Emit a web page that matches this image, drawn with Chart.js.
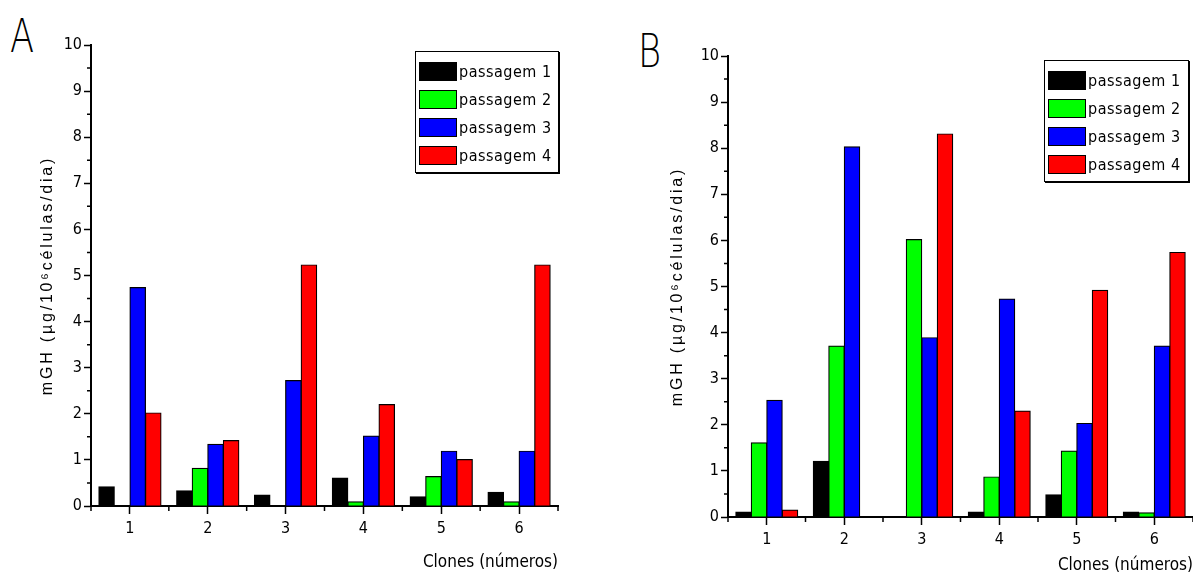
<!DOCTYPE html>
<html>
<head>
<meta charset="utf-8">
<script src="https://cdn.jsdelivr.net/npm/chart.js@4"></script>
<style>
  body { margin: 0; background: #fff; width: 1193px; height: 576px; overflow: hidden; position: relative; }
  canvas { position: absolute; top: 0; }
  .panel { position: absolute; font-family: 'DejaVu Sans', 'Liberation Sans', sans-serif; font-weight: 200; font-size: 47px; line-height: 47px; color: #000; transform: scaleX(0.75); transform-origin: left top; }
  .legend { position: absolute; border: 1px solid #000; box-shadow: 1px 1px 0 #000; background: #fff; padding: 5px 3px 3px 3px; }
  .legend .row { height: 28px; display: flex; align-items: center; white-space: nowrap; }
  .legend .sw { width: 38px; height: 19px; border: 1px solid #000; box-sizing: border-box; margin-right: 2px; flex: none; }
  .legend span { font-family: 'Liberation Sans Narrow', 'Arial Narrow', 'DejaVu Sans Condensed', sans-serif; font-size: 16px; letter-spacing: 0.5px; color: #000; }
</style>
</head>
<body>
<div class="panel" style="left:10px; top:12px">A</div>
<div class="panel" style="left:638px; top:27px">B</div>
<canvas id="graficoA" width="596" height="576" style="left:0"></canvas>
<canvas id="graficoB" width="597" height="576" style="left:596px"></canvas>
<div class="legend" id="legendaA" style="left:415px; top:51px; width:136px"></div>
<div class="legend" id="legendaB" style="left:1044px; top:60px; width:137px"></div>
<script>
const clones = ['1', '2', '3', '4', '5', '6'];
const passagens = ['passagem 1', 'passagem 2', 'passagem 3', 'passagem 4'];
const cores = ['#000000', '#00ff00', '#0000ff', '#ff0000'];
const yTicks = [0, 1, 2, 3, 4, 5, 6, 7, 8, 9, 10];

// painel A
const a_p1 = [0.42, 0.33, 0.24, 0.61, 0.20, 0.30];
const a_p2 = [0, 0.82, 0, 0.09, 0.64, 0.09];
const a_p3 = [4.74, 1.34, 2.72, 1.52, 1.19, 1.19];
const a_p4 = [2.02, 1.42, 5.23, 2.20, 1.01, 5.23];

// painel B
const b_p1 = [0.11, 1.21, 0, 0.11, 0.48, 0.11];
const b_p2 = [1.61, 3.71, 6.02, 0.87, 1.43, 0.09];
const b_p3 = [2.53, 8.03, 3.89, 4.73, 2.03, 3.71];
const b_p4 = [0.15, 0, 8.31, 2.30, 4.92, 5.74];

const yTitulo = 'mGH (µg/10⁶células/dia)';
const xTitulo = 'Clones (números)';

const narrow = "'Liberation Sans Narrow', 'Arial Narrow', 'DejaVu Sans Condensed', sans-serif";
Chart.defaults.font.family = narrow;
Chart.defaults.color = '#000';

// small ticks between the labelled ones
const minorTicks = {
  id: 'minorTicks',
  afterDraw(chart) {
    const { ctx, scales: { x, y }, chartArea } = chart;
    ctx.save();
    ctx.strokeStyle = '#000';
    ctx.lineWidth = 1.5;
    ctx.beginPath();
    for (let i = 0; i < yTicks.length - 1; i++) {
      const py = y.getPixelForValue((yTicks[i] + yTicks[i + 1]) / 2);
      ctx.moveTo(chartArea.left - 4, py);
      ctx.lineTo(chartArea.left, py);
    }
    const half = (x.getPixelForValue(1) - x.getPixelForValue(0)) / 2;
    for (let i = 0; i <= clones.length; i++) {
      const px = x.getPixelForValue(i) - half;
      ctx.moveTo(px, chartArea.bottom);
      ctx.lineTo(px, chartArea.bottom + 5);
    }
    ctx.stroke();
    ctx.restore();
  }
};

// y title is drawn spaced out like the original
const spacedTitle = {
  id: 'spacedTitle',
  beforeDraw(chart) {
    const s = chart.scales.y;
    if (s._spaced) return;
    const orig = s.drawTitle.bind(s);
    s.drawTitle = function () {
      const c = this.ctx;
      const old = c.letterSpacing;
      c.letterSpacing = '2.8px';
      orig();
      c.letterSpacing = old;
    };
    s._spaced = true;
  }
};

function montarLegenda(id) {
  const el = document.getElementById(id);
  passagens.forEach((nome, i) => {
    const row = document.createElement('div');
    row.className = 'row';
    const sw = document.createElement('div');
    sw.className = 'sw';
    sw.style.background = cores[i];
    const txt = document.createElement('span');
    txt.textContent = nome;
    row.appendChild(sw);
    row.appendChild(txt);
    el.appendChild(row);
  });
}

function criarGrafico(id, series, cfg) {
  const ctx = document.getElementById(id).getContext('2d');
  return new Chart(ctx, {
    type: 'bar',
    data: {
      labels: clones,
      datasets: series.map((d, i) => ({
        label: passagens[i],
        data: d,
        backgroundColor: cores[i],
        borderColor: '#000',
        borderWidth: 1.2,
        inflateAmount: 0.5,
        categoryPercentage: 0.8,
        barPercentage: 1
      }))
    },
    options: {
      animation: false,
      responsive: false,
      layout: { padding: { left: cfg.left, right: cfg.right, top: cfg.top, bottom: 0 } },
      plugins: { legend: { display: false }, tooltip: { enabled: false } },
      scales: {
        x: {
          grid: { display: true, drawOnChartArea: false, offset: false, tickLength: 8, tickWidth: 1.5, tickColor: '#000' },
          border: { display: true, color: '#000', width: 2 },
          ticks: { padding: 5, font: { size: 16 } },
          title: { display: true, text: xTitulo, align: 'end', font: { size: 17 }, padding: cfg.xTitlePad },
          afterFit: (s) => { s.height = cfg.xHeight; }
        },
        y: {
          min: 0,
          max: 10,
          grid: { display: true, drawOnChartArea: false, tickLength: 7, tickWidth: 1.5, tickColor: '#000' },
          border: { display: true, color: '#000', width: 2 },
          ticks: { stepSize: 1, padding: 2, font: { size: 16 } },
          title: { display: true, text: yTitulo, font: { family: "'Liberation Sans', Arial, sans-serif", size: 16 }, padding: 0 },
          afterFit: (s) => { s.width = cfg.yWidth; }
        }
      }
    },
    plugins: [minorTicks, spacedTitle]
  });
}

criarGrafico('graficoA', [a_p1, a_p2, a_p3, a_p4], { left: 38, right: 38, top: 45, yWidth: 53, xHeight: 70, xTitlePad: 3 });
criarGrafico('graficoB', [b_p1, b_p2, b_p3, b_p4], { left: 72, right: 0, top: 56, yWidth: 60, xHeight: 59, xTitlePad: 0 });
montarLegenda('legendaA');
montarLegenda('legendaB');
</script>
</body>
</html>
